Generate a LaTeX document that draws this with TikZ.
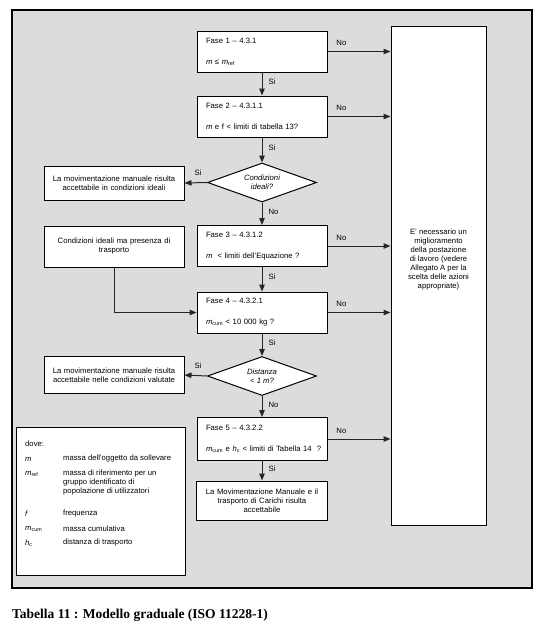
\documentclass[tikz,border=0pt]{standalone}
\usepackage{fontspec}
\setmainfont{Liberation Sans}
\newfontfamily\capfont{Liberation Serif}
\usetikzlibrary{arrows.meta,shapes.geometric}
\definecolor{bggray}{RGB}{220,220,220}
\begin{document}
\begin{tikzpicture}[x=1pt,y=-1pt,
  txt/.style={font=\fontsize{7.7}{9}\selectfont},
  box/.style={draw,line width=1pt,fill=white,txt},
  fase/.style={box,minimum width=130pt,minimum height=41pt,text width=112pt,inner xsep=9pt,inner ysep=0pt,align=left},
  side/.style={box,minimum width=140pt,text width=134pt,inner xsep=3pt,align=center},
  dec/.style={box,shape=diamond,shape aspect=2.8,inner sep=0pt,minimum width=109pt,minimum height=39pt,align=center,font=\fontsize{7.7}{9}\selectfont\itshape},
  conn/.style={line width=1pt,draw=black!85,-{Triangle[length=7pt,width=5.5pt]}},
  lab/.style={txt,inner sep=1pt},
  leg/.style={txt,inner sep=0pt,anchor=west,align=left}
]
\useasboundingbox (0,0) rectangle (544,629);
\fill[white] (0,0) rectangle (544,629);
\node[draw,fill=bggray,line width=1.3pt,minimum width=520pt,minimum height=578pt,inner sep=0pt] (frame) at (272,299) {};

% right box
\node[box,minimum width=95pt,minimum height=499pt,inner sep=0pt] (R) at (438.5,275.5) {};
\node[txt,align=center,inner sep=0pt] (Rt) at (438.5,260) {E' necessario un\\miglioramento\\della postazione\\di lavoro (vedere\\Allegato A per la\\scelta delle azioni\\appropriate)};

% main column
\node[fase] (f1) at (262,51.5) {Fase 1 – 4.3.1\\[12pt]{\itshape m} ≤ {\itshape m}\textsubscript{ref}};
\node[fase] (f2) at (262,116.5) {Fase 2 – 4.3.1.1\\[12pt]{\itshape m} e f < limiti di tabella 13?};
\node[dec] (d1) at (262,182.5) {Condizioni\\ideali?};
\node[fase] (f3) at (262,246) {Fase 3 – 4.3.1.2\\[12pt]{\itshape m} \ < limiti dell'Equazione ?};
\node[fase] (f4) at (262,312.5) {Fase 4 – 4.3.2.1\\[12pt]{\itshape m}\textsubscript{cum} < 10 000 kg ?};
\node[dec] (d2) at (262,376) {Distanza\\< 1 m?};
\node[fase,minimum height=43pt] (f5) at (262,439) {Fase 5 – 4.3.2.2\\[12pt]\mbox{{\itshape m}\textsubscript{cum} e {\itshape h}\textsubscript{c} < limiti di Tabella 14 \ ?}};
\node[box,minimum width=131pt,minimum height=39pt,text width=125pt,inner xsep=3pt,align=center] (fin) at (262,500.5) {La Movimentazione Manuale e il\\trasporto di Carichi risulta\\accettabile};

% left column
\node[side,minimum height=34pt] (l1) at (114,183) {La movimentazione manuale risulta\\accettabile in condizioni ideali};
\node[side,minimum height=41pt] (l2) at (114,246.5) {Condizioni ideali ma presenza di\\trasporto};
\node[side,minimum height=37pt] (l3) at (114,375) {La movimentazione manuale risulta\\accettabile nelle condizioni valutate};

% legend
\node[box,minimum width=169pt,minimum height=148pt,inner sep=0pt] (legbox) at (100.5,501) {};
\node[leg] (g0) at (25,444) {dove:};
\node[leg] (g1a) at (25,459) {\itshape m};
\node[leg] (g1b) at (63,459) {massa dell'oggetto da sollevare};
\node[leg] (g2a) at (25,474) {{\itshape m}\textsubscript{ref}};
\node[leg,anchor=north west] (g2b) at (63,469.5) {massa di riferimento per un\\gruppo identificato di\\popolazione di utilizzatori};
\node[leg] (g3a) at (25,514) {\itshape f};
\node[leg] (g3b) at (63,514) {frequenza};
\node[leg] (g4a) at (25,529) {{\itshape m}\textsubscript{cum}};
\node[leg] (g4b) at (63,529) {massa cumulativa};
\node[leg] (g5a) at (25,543) {{\itshape h}\textsubscript{c}};
\node[leg] (g5b) at (63,543) {distanza di trasporto};

% vertical connectors
\draw[conn] (f1.south) -- node[lab,right=5pt,pos=0.4] {Si} (f2.north);
\draw[conn] (f2.south) -- node[lab,right=5pt,pos=0.4] {Si} (d1.north);
\draw[conn] (d1.south) -- node[lab,right=5pt,pos=0.4] {No} (f3.north);
\draw[conn] (f3.south) -- node[lab,right=5pt,pos=0.4] {Si} (f4.north);
\draw[conn] (f4.south) -- node[lab,right=5pt,pos=0.4] {Si} (d2.north);
\draw[conn] (d2.south) -- node[lab,right=5pt,pos=0.4] {No} (f5.north);
\draw[conn] (f5.south) -- node[lab,right=5pt,pos=0.4] {Si} (fin.north);

% left connectors
\draw[conn] (d1.west) -- node[lab,above=6pt,pos=0.4] {Si} (l1.east);
\draw[conn] (d2.west) -- node[lab,above=6pt,pos=0.4] {Si} (l3.east);
\draw[conn] (l2.south) |- (f4.west);

% right connectors
\draw[conn] (f1.east) -- node[lab,above=4pt,pos=0.22] {No} (f1.east -| R.west);
\draw[conn] (f2.east) -- node[lab,above=4pt,pos=0.22] {No} (f2.east -| R.west);
\draw[conn] (f3.east) -- node[lab,above=4pt,pos=0.22] {No} (f3.east -| R.west);
\draw[conn] (f4.east) -- node[lab,above=4pt,pos=0.22] {No} (f4.east -| R.west);
\draw[conn] (f5.east) -- node[lab,above=4pt,pos=0.22] {No} (f5.east -| R.west);

% caption
\node[anchor=west,inner sep=0pt,font=\capfont\bfseries\fontsize{13.5}{15}\selectfont] (cap) at (12,615) {Tabella 11 : Modello graduale (ISO 11228-1)};
\end{tikzpicture}
\end{document}
